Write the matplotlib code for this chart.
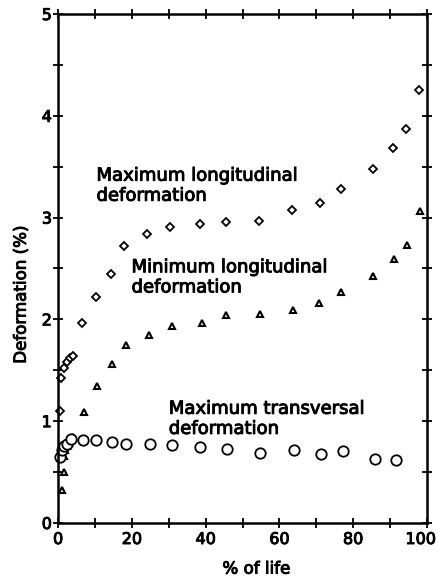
import matplotlib
matplotlib.use("Agg")
import matplotlib.pyplot as plt
import matplotlib.patheffects as pe
import matplotlib.transforms as mtransforms
from matplotlib.ticker import MultipleLocator

# maximum longitudinal deformation (diamonds)
max_long_x = [0.5, 0.8, 1.5, 2.5, 3.3, 4.0, 6.6, 10.4, 14.3, 17.9, 24.1, 30.4,
              38.6, 45.4, 54.5, 63.4, 71.0, 76.6, 85.5, 90.9, 94.4, 97.8]
max_long_y = [1.10, 1.42, 1.52, 1.58, 1.62, 1.64, 1.96, 2.22, 2.45, 2.72, 2.84, 2.91,
              2.94, 2.96, 2.97, 3.07, 3.14, 3.28, 3.48, 3.68, 3.87, 4.25]

# minimum longitudinal deformation (triangles)
min_long_x = [1.0, 1.5, 1.5, 2.0, 2.5, 3.0, 3.5, 4.0, 7.0, 10.5, 14.5, 18.4, 24.7,
              30.9, 38.9, 45.4, 54.6, 63.6, 70.8, 76.6, 85.5, 91.0, 94.5, 98.1]
min_long_y = [0.32, 0.50, 0.66, 0.72, 0.76, 0.79, 0.82, 0.84, 1.09, 1.35, 1.56, 1.75, 1.85,
              1.93, 1.96, 2.04, 2.05, 2.09, 2.16, 2.27, 2.43, 2.59, 2.73, 3.06]

# maximum transversal deformation (circles)
max_trans_x = [0.5, 1.0, 1.5, 2.5, 3.5, 6.8, 10.4, 14.7, 18.4, 24.8, 30.9, 38.6,
               45.9, 54.7, 64.0, 71.3, 77.2, 85.8, 91.6]
max_trans_y = [0.65, 0.72, 0.76, 0.78, 0.82, 0.81, 0.81, 0.80, 0.78, 0.78, 0.77, 0.75,
               0.73, 0.69, 0.72, 0.68, 0.71, 0.63, 0.62]

x_ticks = [0, 20, 40, 60, 80, 100]
y_ticks = [0, 1, 2, 3, 4, 5]

plt.rcParams['font.family'] = ['DejaVu Sans']
thick = [pe.withStroke(linewidth=0.7, foreground='black')]

fig = plt.figure(figsize=(4.37, 5.83), dpi=100)
ax = fig.add_axes([0.133, 0.103, 0.844, 0.873])

ax.plot(max_long_x, max_long_y, linestyle='none', marker='D', markersize=4.2,
        markerfacecolor='white', markeredgecolor='black', markeredgewidth=1.3, clip_on=False)
ax.plot(min_long_x, min_long_y, linestyle='none', marker='^', markersize=4.5,
        markerfacecolor='white', markeredgecolor='black', markeredgewidth=1.5, clip_on=False)
ax.plot(max_trans_x, max_trans_y, linestyle='none', marker='o', markersize=7.5,
        markerfacecolor='white', markeredgecolor='black', markeredgewidth=1.3, clip_on=False)

ax.set_xlim(0, 100)
ax.set_ylim(0, 5)
ax.set_xticks(x_ticks)
ax.set_yticks(y_ticks)
ax.xaxis.set_minor_locator(MultipleLocator(10))
ax.yaxis.set_minor_locator(MultipleLocator(0.5))
for which in ['major', 'minor']:
    ax.tick_params(which=which, direction='inout', length=7, width=1.3,
                   top=True, right=True, labelsize=11.5)
ax.tick_params(axis='x', pad=3)
ax.tick_params(axis='y', pad=1)
for lab in ax.get_xticklabels() + ax.get_yticklabels():
    lab.set_path_effects(thick)
last = ax.get_xticklabels()[-1]
last.set_horizontalalignment('right')
last.set_transform(last.get_transform() + mtransforms.ScaledTranslation(9 / 100, 0, fig.dpi_scale_trans))
for s in ax.spines.values():
    s.set_linewidth(1.8)

ax.set_xlabel('% of life', fontsize=12, path_effects=thick)
ax.xaxis.set_label_coords(0.537, -0.072)
ax.set_ylabel('Deformation (%)', fontsize=12, path_effects=thick)
ax.yaxis.set_label_coords(-0.077, 0.448)

ax.text(10.4, 3.50, 'Maximum longitudinal\ndeformation', fontsize=13,
        va='top', ha='left', linespacing=1.15, path_effects=thick)
ax.text(19.9, 2.60, 'Minimum longitudinal\ndeformation', fontsize=13,
        va='top', ha='left', linespacing=1.15, path_effects=thick)
ax.text(30.0, 1.21, 'Maximum transversal\ndeformation', fontsize=13,
        va='top', ha='left', linespacing=1.15, path_effects=thick)

fig.savefig('out.png', dpi=100)
